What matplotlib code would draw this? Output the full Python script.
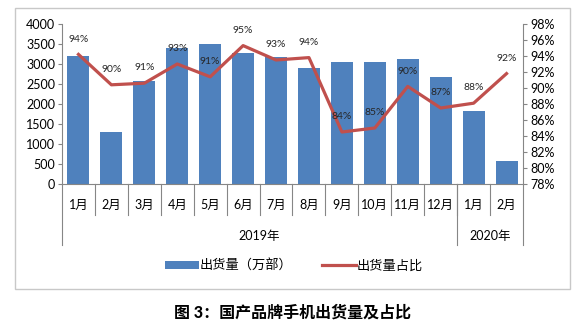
import numpy as np
import matplotlib.pyplot as plt
from matplotlib.patches import Rectangle, Patch
from matplotlib.lines import Line2D
import matplotlib.transforms as mtransforms

plt.rcParams['font.family'] = ['Lato', 'Noto Sans CJK SC', 'DejaVu Sans']

# datos
meses = ["1月", "2月", "3月", "4月", "5月", "6月", "7月", "8月", "9月", "10月", "11月", "12月", "1月", "2月"]
anios = ["2019年", "2020年"]
meses_por_anio = [12, 2]
envios = [3200, 1300, 2570, 3390, 3500, 3270, 3180, 2890, 3060, 3050, 3130, 2670, 1830, 580]
proporcion = [94.2, 90.4, 90.6, 93.0, 91.4, 95.3, 93.5, 93.8, 84.5, 85.0, 90.2, 87.5, 88.1, 91.8]
etiquetas = ["94%", "90%", "91%", "93%", "91%", "95%", "93%", "94%", "84%", "85%", "90%", "87%", "88%", "92%"]

azul = "#4F81BD"
rojo = "#C0504D"
gris = "#868686"

fig = plt.figure(figsize=(5.82, 3.30), dpi=100)
ax = fig.add_axes([62/582, 1-184/330, (523-62)/582, 160/330])
ax2 = ax.twinx()

x = np.arange(len(meses))
ax.bar(x, envios, width=0.67, color=azul, zorder=2)
ax.set_xlim(-0.5, len(meses)-0.5)
ax.set_ylim(0, 4000)
ax.set_yticks(range(0, 4001, 500))
ax.tick_params(axis='y', labelsize=9, length=3, color=gris, pad=2)
ax.set_xticks([])

ax2.plot(x, proporcion, color=rojo, lw=2.3, zorder=3)
ax2.set_ylim(78, 98)
ax2.set_yticks(range(78, 99, 2))
ax2.set_yticklabels([f"{v}%" for v in range(78, 99, 2)])
ax2.tick_params(axis='y', labelsize=9, length=3, color=gris, pad=2)
for xi, yi, t in zip(x, proporcion, etiquetas):
    ax2.annotate(t, (xi, yi), xytext=(0, 11), textcoords='offset points',
                 ha='center', va='center', fontsize=7.5, color='#262626')

for a in (ax, ax2):
    for s in a.spines.values():
        s.set_visible(False)
ax.spines['left'].set_visible(True)
ax.spines['left'].set_color(gris)
ax.spines['bottom'].set_visible(True)
ax.spines['bottom'].set_color(gris)
ax2.spines['right'].set_visible(True)
ax2.spines['right'].set_color(gris)

# eje de categorias de dos niveles
trans = mtransforms.blended_transform_factory(ax.transData, ax.transAxes)
for xi, m in zip(x, meses):
    ax.text(xi, -0.13, m, transform=trans, ha='center', va='center', fontsize=9)
for b in np.arange(0.5, len(meses)-1, 1):
    ax.plot([b, b], [0, -0.195], transform=trans, color=gris, lw=0.8, clip_on=False)
inicio = 0
for anio, n in zip(anios, meses_por_anio):
    ax.text(inicio + (n-1)/2, -0.325, anio, transform=trans, ha='center', va='center', fontsize=9)
    inicio += n
bordes = np.cumsum([0] + meses_por_anio) - 0.5
for b in bordes:
    ax.plot([b, b], [0, -0.38], transform=trans, color=gris, lw=0.8, clip_on=False)

# leyenda
handles = [Patch(facecolor=azul, label="出货量（万部）"),
           Line2D([0], [0], color=rojo, lw=2.3, label="出货量占比")]
fig.legend(handles=handles, loc='center', bbox_to_anchor=(0.505, 1-265/330), ncol=2,
           frameon=False, fontsize=9.5, handlelength=2.6, handleheight=0.5,
           handletextpad=0.05, columnspacing=2.2)

# marco
fig.patches.append(Rectangle((15/582, 1-289/330), (570-15)/582, (289-8)/330,
                             transform=fig.transFigure, fill=False, edgecolor='#c8c8c8', lw=1))

fig.text(0.503, 1-313/330, "图 3：国产品牌手机出货量及占比", ha='center', va='center',
         fontsize=11.5, fontweight='black')

fig.savefig("out.png", dpi=100)
